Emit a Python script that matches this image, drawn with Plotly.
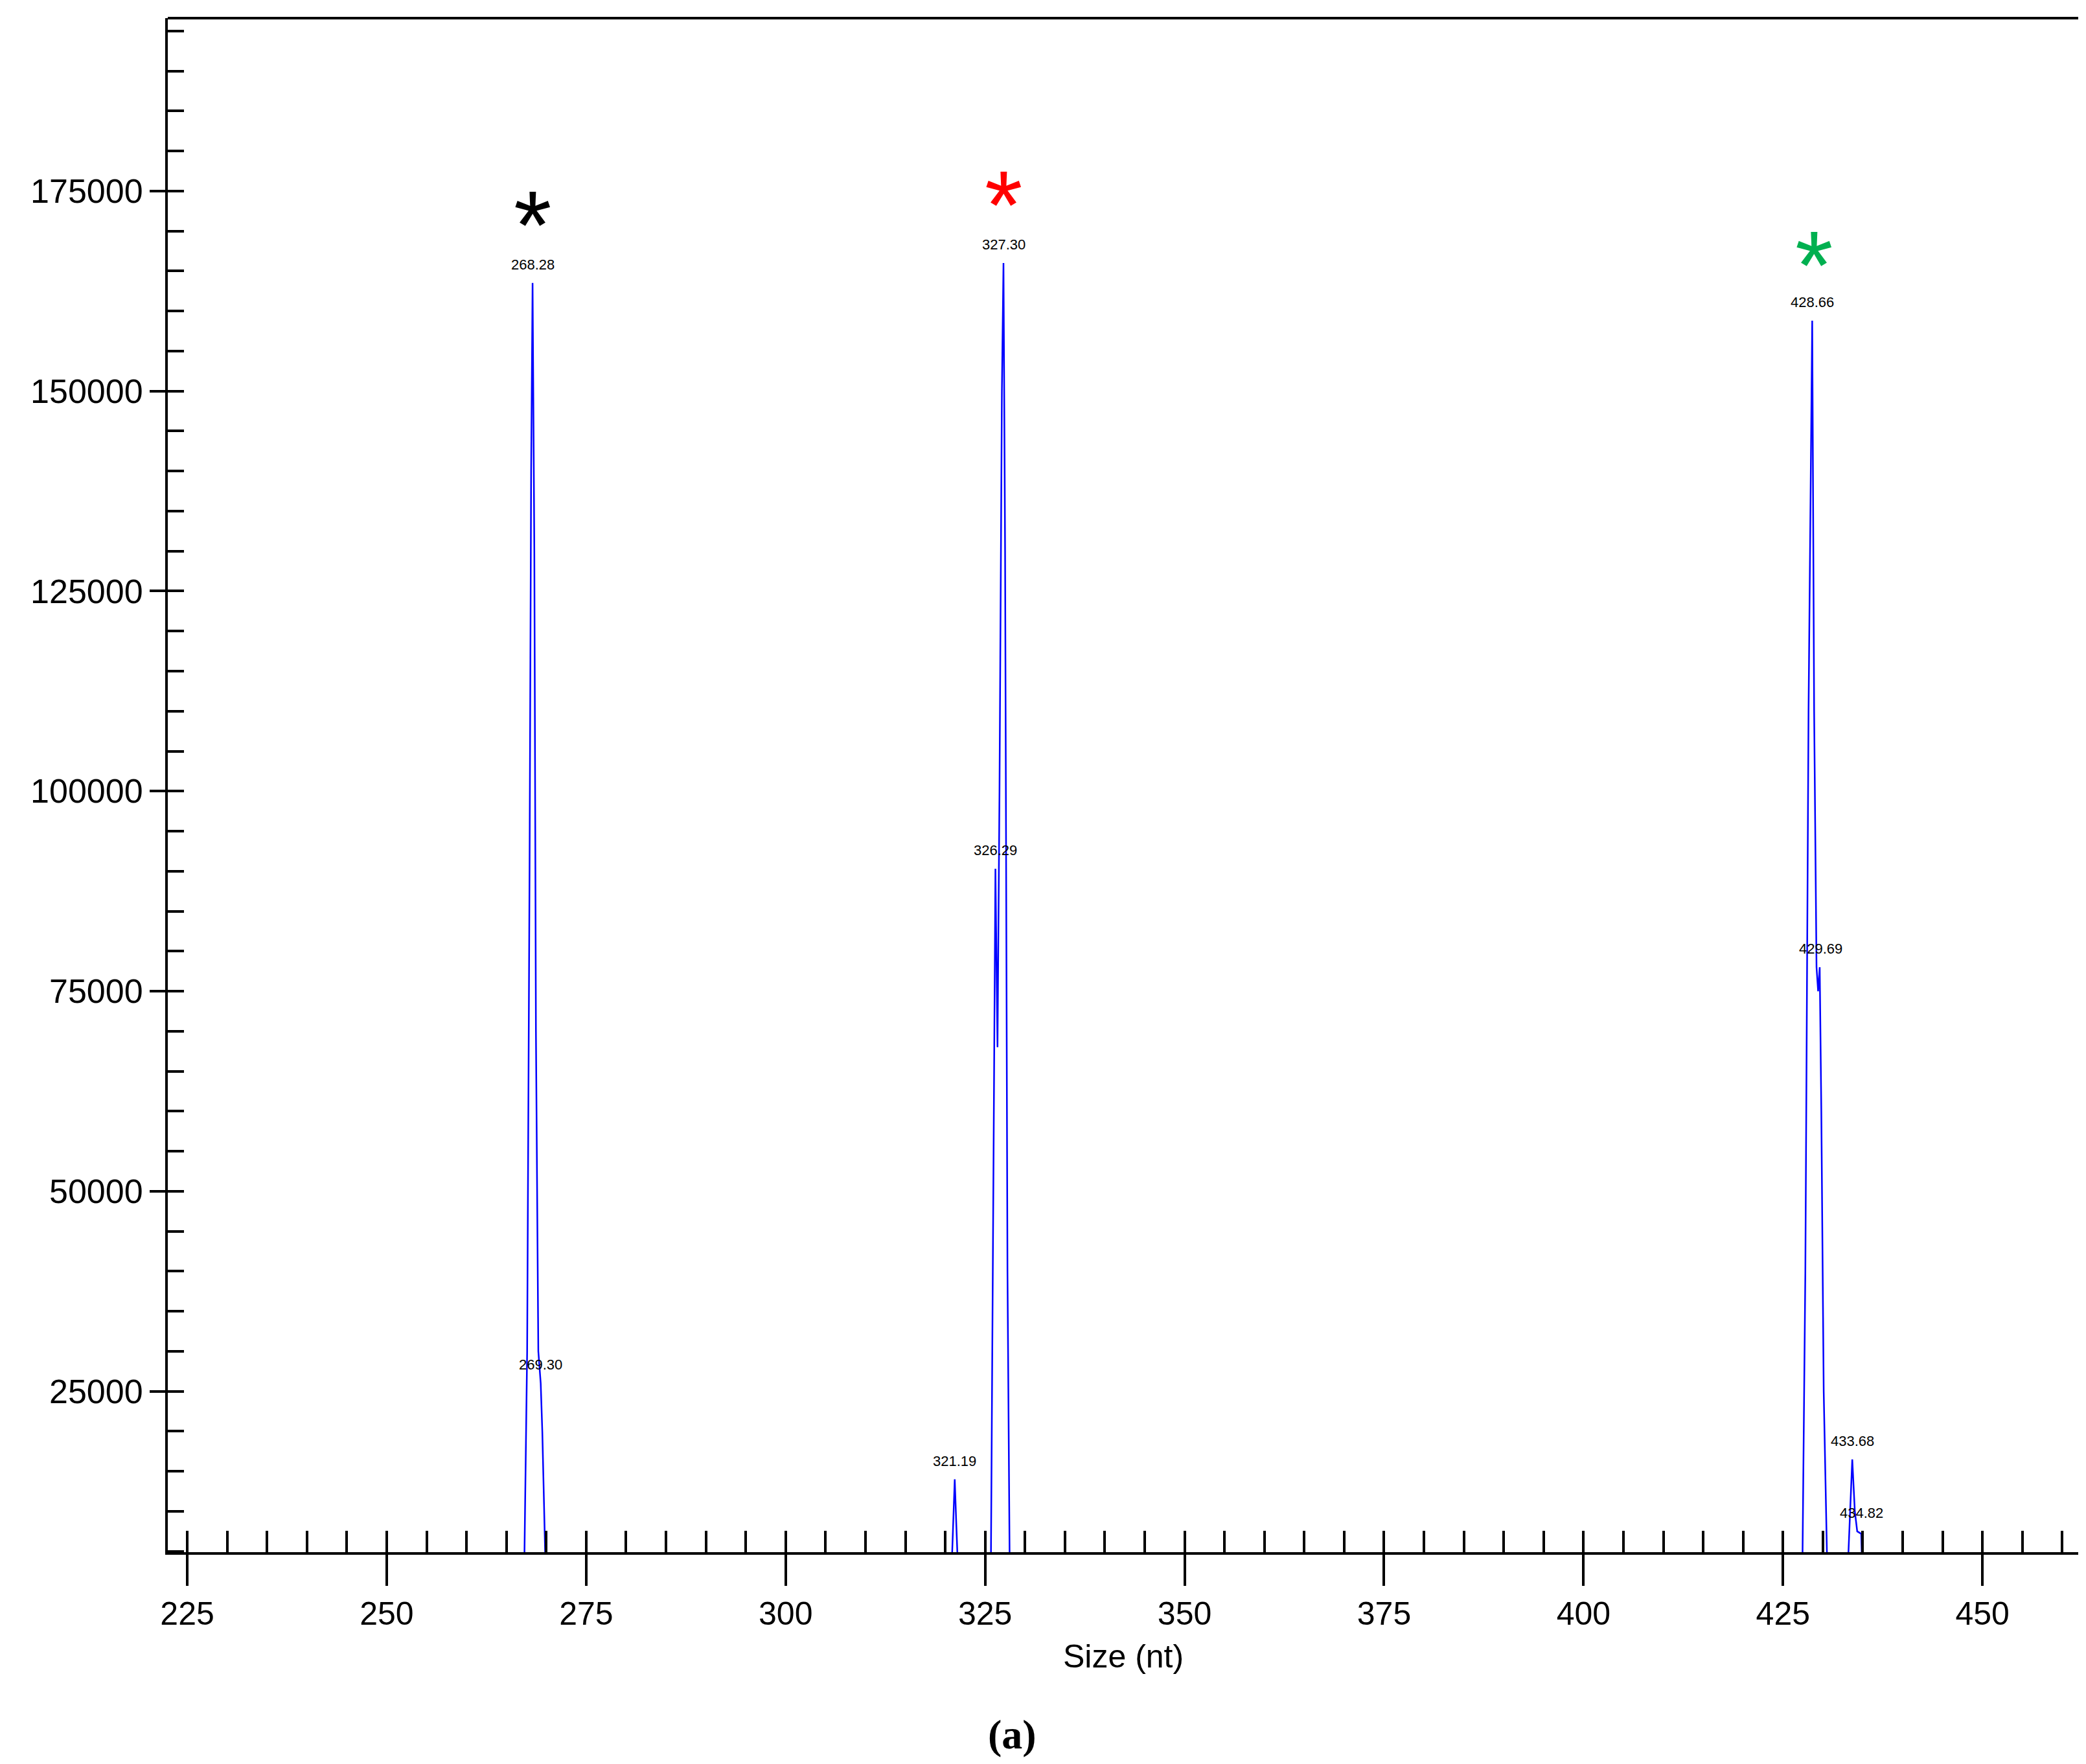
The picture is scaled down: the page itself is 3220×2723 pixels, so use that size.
import plotly.graph_objects as go

# Electropherogram trace (size in nt, intensity)
size_nt = [267.2, 267.6, 267.9, 268.1, 268.28, 268.5, 268.7, 269.0, 269.3, 269.5, 269.9, 270.2,
           320.7, 321.0, 321.19, 321.4, 321.7,
           325.7, 326.0, 326.29, 326.55, 326.8, 327.1, 327.3, 327.5, 327.8, 328.1,
           427.4, 427.8, 428.2, 428.66, 428.9, 429.2, 429.4, 429.6, 429.8, 430.1, 430.6,
           433.0, 433.4, 433.68, 434.0, 434.3, 434.8, 435.0]
intensity = [0, 30000, 90000, 140000, 163500, 130000, 70000, 30000, 26000, 20000, 3000, 0,
             0, 9000, 14000, 8000, 0,
             0, 50000, 90300, 68000, 100000, 150000, 166000, 130000, 40000, 0,
             0, 40000, 110000, 158800, 110000, 78000, 75000, 78000, 60000, 25000, 0,
             0, 10000, 16500, 10000, 7500, 7200, 0]

peak_labels = ["268.28", "269.30", "321.19", "326.29", "327.30", "428.66", "429.69", "433.68", "434.82"]
peak_x = [268.28, 269.30, 321.19, 326.29, 327.30, 428.66, 429.69, 433.68, 434.82]
peak_y = [163500, 26000, 14000, 90300, 166000, 158800, 78000, 16500, 7500]

star_x = [268.3, 327.3, 428.9]
star_y = [171500, 174000, 166500]
star_colors = ["#000000", "#FF0000", "#00B050"]

fig = go.Figure()
fig.add_trace(go.Scatter(x=size_nt, y=intensity, mode="lines",
                         line=dict(color="#0000FF", width=2.5), showlegend=False))
fig.add_trace(go.Scatter(x=[300], y=[100000], xaxis="x2", yaxis="y2", mode="markers",
                         marker=dict(opacity=0), showlegend=False, hoverinfo="skip"))

for t, x, y in zip(peak_labels, peak_x, peak_y):
    fig.add_annotation(x=x, y=y, text=t, showarrow=False, yanchor="bottom", yshift=14,
                       font=dict(family="Liberation Sans", size=22, color="black"))
for x, y, c in zip(star_x, star_y, star_colors):
    fig.add_annotation(x=x, y=y, text="*", showarrow=False, yanchor="middle", yshift=-10,
                       font=dict(family="Liberation Sans", size=150, color=c))

fig.add_annotation(xref="paper", yref="paper", x=0.5, y=-0.068, text="Size (nt)", showarrow=False,
                   yanchor="middle", font=dict(family="Liberation Sans", size=50, color="black"))
fig.add_annotation(xref="paper", yref="paper", x=0.442, y=-0.119, text="<b>(a)</b>", showarrow=False,
                   yanchor="middle", font=dict(family="Liberation Serif", size=64, color="black"))

fig.add_shape(type="line", xref="paper", yref="paper", x0=0, x1=1, y0=1, y1=1,
              line=dict(color="black", width=4))

xr = [222.56, 462.0]
yr = [4900, 196600]
fig.update_layout(
    width=3220, height=2723, paper_bgcolor="white", plot_bgcolor="white",
    margin=dict(l=251, r=20, t=20, b=335),
    font=dict(family="Liberation Sans", size=50, color="black"),
    xaxis=dict(range=xr, tick0=225, dtick=25, ticks="outside", ticklen=48, tickwidth=4,
               tickcolor="black", showline=True, linecolor="black", linewidth=4,
               showgrid=False, zeroline=False, tickfont=dict(size=50)),
    yaxis=dict(range=yr, tick0=25000, dtick=25000, ticks="outside", ticklen=24, tickwidth=4,
               tickcolor="black", showline=True, linecolor="black", linewidth=4,
               tickformat="d", showgrid=False, zeroline=False, tickfont=dict(size=52)),
    xaxis2=dict(range=xr, overlaying="x", anchor="y2", side="bottom", tick0=225, dtick=5,
                ticks="inside", ticklen=33, tickwidth=4, tickcolor="black",
                showticklabels=False, showline=False, showgrid=False, zeroline=False),
    yaxis2=dict(range=yr, overlaying="y", anchor="x2", side="left", tick0=25000, dtick=5000,
                ticks="inside", ticklen=25, tickwidth=4, tickcolor="black",
                showticklabels=False, showline=False, showgrid=False, zeroline=False),
)
fig.write_html("out.html")
